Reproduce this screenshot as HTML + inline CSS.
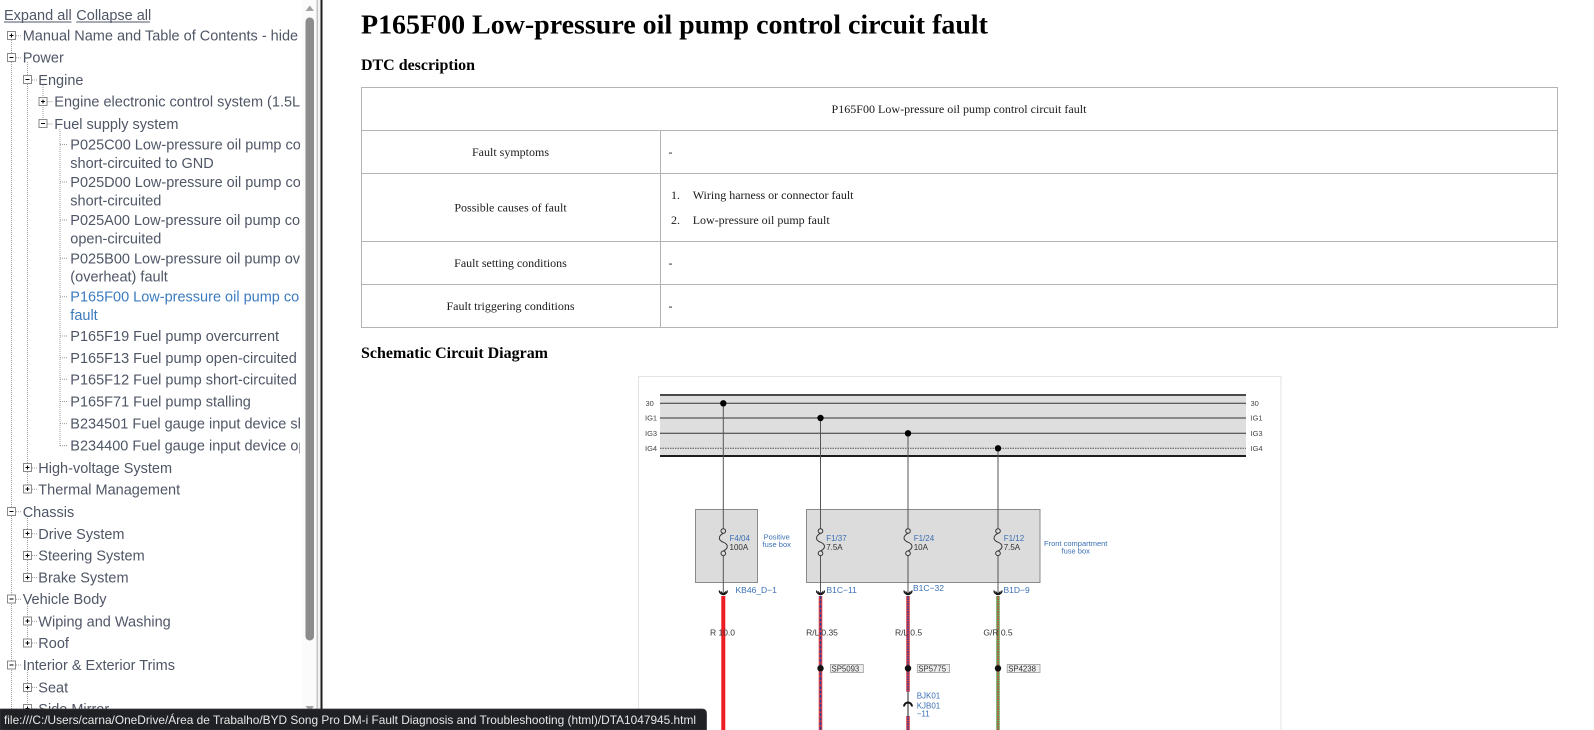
<!DOCTYPE html>
<html><head><meta charset="utf-8">
<style>
html,body{margin:0;padding:0;background:#fff;width:1594px;height:730px;overflow:hidden}
svg{display:block}
.sb{font-family:"Liberation Sans",Arial,sans-serif;font-size:14.5px;fill:#4f5666}
.sf{font-family:"Liberation Serif","Times New Roman",serif;fill:#1a1a1a}
.d{font-family:"Liberation Sans",Arial,sans-serif}
.lbl{font-size:7.5px;fill:#444}
.bl{fill:#3a6fb5}
.dk{fill:#333}
.dot{stroke:#9a9a9a;stroke-width:1;stroke-dasharray:1 1;fill:none}
.bx{fill:#fff;stroke:#8a8a8a;stroke-width:1}
.pm{stroke:#000;stroke-width:1}
</style></head><body>
<svg width="1594" height="730" viewBox="0 0 1594 730" xmlns="http://www.w3.org/2000/svg">
<defs>
<clipPath id="sbclip"><rect x="0" y="0" width="300" height="709"/></clipPath>
</defs>

<!-- ============ SIDEBAR ============ -->
<g clip-path="url(#sbclip)">
  <line class="dot" x1="11.5" y1="40" x2="11.5" y2="730"/>
  <line class="dot" x1="27.5" y1="62" x2="27.5" y2="489"/>
  <line class="dot" x1="27.5" y1="516" x2="27.5" y2="577"/>
  <line class="dot" x1="27.5" y1="604" x2="27.5" y2="643"/>
  <line class="dot" x1="27.5" y1="670" x2="27.5" y2="730"/>
  <line class="dot" x1="43" y1="85" x2="43" y2="124"/>
  <line class="dot" x1="60" y1="129" x2="60" y2="446"/>

  <g class="dot">
    <line x1="16" y1="35.7" x2="21" y2="35.7"/>
    <line x1="16" y1="57.7" x2="21" y2="57.7"/>
    <line x1="32" y1="80" x2="37" y2="80"/>
    <line x1="47.5" y1="101.7" x2="53" y2="101.7"/>
    <line x1="47.5" y1="124" x2="53" y2="124"/>
    <line x1="60" y1="144.5" x2="68" y2="144.5"/>
    <line x1="60" y1="182" x2="68" y2="182"/>
    <line x1="60" y1="220" x2="68" y2="220"/>
    <line x1="60" y1="258.3" x2="68" y2="258.3"/>
    <line x1="60" y1="296.7" x2="68" y2="296.7"/>
    <line x1="60" y1="336" x2="68" y2="336"/>
    <line x1="60" y1="357.8" x2="68" y2="357.8"/>
    <line x1="60" y1="379.3" x2="68" y2="379.3"/>
    <line x1="60" y1="401.5" x2="68" y2="401.5"/>
    <line x1="60" y1="423.6" x2="68" y2="423.6"/>
    <line x1="60" y1="445.6" x2="68" y2="445.6"/>
    <line x1="32" y1="468" x2="37" y2="468"/>
    <line x1="32" y1="489.3" x2="37" y2="489.3"/>
    <line x1="16" y1="511.8" x2="21" y2="511.8"/>
    <line x1="32" y1="533.8" x2="37" y2="533.8"/>
    <line x1="32" y1="555.5" x2="37" y2="555.5"/>
    <line x1="32" y1="577.5" x2="37" y2="577.5"/>
    <line x1="16" y1="599.2" x2="21" y2="599.2"/>
    <line x1="32" y1="621.3" x2="37" y2="621.3"/>
    <line x1="32" y1="643" x2="37" y2="643"/>
    <line x1="16" y1="665" x2="21" y2="665"/>
    <line x1="32" y1="687.4" x2="37" y2="687.4"/>
    <line x1="32" y1="708.8" x2="37" y2="708.8"/>
  </g>

  <g>
    <rect class="bx" x="7.5" y="31.5" width="8" height="8"/><line class="pm" x1="9.5" y1="35.5" x2="13.5" y2="35.5"/><line class="pm" x1="11.5" y1="33.5" x2="11.5" y2="37.5"/>
    <rect class="bx" x="7.5" y="53.5" width="8" height="8"/><line class="pm" x1="9.5" y1="57.5" x2="13.5" y2="57.5"/>
    <rect class="bx" x="23.5" y="75.5" width="8" height="8"/><line class="pm" x1="25.5" y1="79.5" x2="29.5" y2="79.5"/>
    <rect class="bx" x="39" y="97.5" width="8" height="8"/><line class="pm" x1="41" y1="101.5" x2="45" y2="101.5"/><line class="pm" x1="43" y1="99.5" x2="43" y2="103.5"/>
    <rect class="bx" x="39" y="119.5" width="8" height="8"/><line class="pm" x1="41" y1="123.5" x2="45" y2="123.5"/>
    <rect class="bx" x="23.5" y="463.5" width="8" height="8"/><line class="pm" x1="25.5" y1="467.5" x2="29.5" y2="467.5"/><line class="pm" x1="27.5" y1="465.5" x2="27.5" y2="469.5"/>
    <rect class="bx" x="23.5" y="485" width="8" height="8"/><line class="pm" x1="25.5" y1="489" x2="29.5" y2="489"/><line class="pm" x1="27.5" y1="487" x2="27.5" y2="491"/>
    <rect class="bx" x="7.5" y="507.5" width="8" height="8"/><line class="pm" x1="9.5" y1="511.5" x2="13.5" y2="511.5"/>
    <rect class="bx" x="23.5" y="529.5" width="8" height="8"/><line class="pm" x1="25.5" y1="533.5" x2="29.5" y2="533.5"/><line class="pm" x1="27.5" y1="531.5" x2="27.5" y2="535.5"/>
    <rect class="bx" x="23.5" y="551.5" width="8" height="8"/><line class="pm" x1="25.5" y1="555.5" x2="29.5" y2="555.5"/><line class="pm" x1="27.5" y1="553.5" x2="27.5" y2="557.5"/>
    <rect class="bx" x="23.5" y="573.5" width="8" height="8"/><line class="pm" x1="25.5" y1="577.5" x2="29.5" y2="577.5"/><line class="pm" x1="27.5" y1="575.5" x2="27.5" y2="579.5"/>
    <rect class="bx" x="7.5" y="595" width="8" height="8"/><line class="pm" x1="9.5" y1="599" x2="13.5" y2="599"/>
    <rect class="bx" x="23.5" y="617" width="8" height="8"/><line class="pm" x1="25.5" y1="621" x2="29.5" y2="621"/><line class="pm" x1="27.5" y1="619" x2="27.5" y2="623"/>
    <rect class="bx" x="23.5" y="639" width="8" height="8"/><line class="pm" x1="25.5" y1="643" x2="29.5" y2="643"/><line class="pm" x1="27.5" y1="641" x2="27.5" y2="645"/>
    <rect class="bx" x="7.5" y="661" width="8" height="8"/><line class="pm" x1="9.5" y1="665" x2="13.5" y2="665"/>
    <rect class="bx" x="23.5" y="683.5" width="8" height="8"/><line class="pm" x1="25.5" y1="687.5" x2="29.5" y2="687.5"/><line class="pm" x1="27.5" y1="685.5" x2="27.5" y2="689.5"/>
    <rect class="bx" x="23.5" y="704.5" width="8" height="8"/><line class="pm" x1="25.5" y1="708.5" x2="29.5" y2="708.5"/><line class="pm" x1="27.5" y1="706.5" x2="27.5" y2="710.5"/>
  </g>

  <g class="sb">
    <text x="4" y="20">Expand all</text>
    <line x1="4" y1="22" x2="71.5" y2="22" stroke="#4f5666" stroke-width="1"/>
    <text x="76.3" y="20">Collapse all</text>
    <line x1="76.3" y1="22" x2="150" y2="22" stroke="#4f5666" stroke-width="1"/>

    <text x="22.7" y="40.7">Manual Name and Table of Contents - hide</text>
    <text x="22.7" y="62.7">Power</text>
    <text x="38.3" y="85">Engine</text>
    <text x="54.3" y="106.7">Engine electronic control system (1.5L Ti)</text>
    <text x="54.3" y="129">Fuel supply system</text>
    <text x="70.3" y="149.5">P025C00 Low-pressure oil pump control circuit</text>
    <text x="70.3" y="168">short-circuited to GND</text>
    <text x="70.3" y="187">P025D00 Low-pressure oil pump control circuit</text>
    <text x="70.3" y="205.7">short-circuited</text>
    <text x="70.3" y="225">P025A00 Low-pressure oil pump control circuit</text>
    <text x="70.3" y="243.5">open-circuited</text>
    <text x="70.3" y="263.3">P025B00 Low-pressure oil pump overtemperature</text>
    <text x="70.3" y="281.7">(overheat) fault</text>
    <text x="70.3" y="301.7" style="fill:#3b7bbf">P165F00 Low-pressure oil pump control circuit</text>
    <text x="70.3" y="320" style="fill:#3b7bbf">fault</text>
    <text x="70.3" y="341">P165F19 Fuel pump overcurrent</text>
    <text x="70.3" y="362.8">P165F13 Fuel pump open-circuited</text>
    <text x="70.3" y="384.3">P165F12 Fuel pump short-circuited</text>
    <text x="70.3" y="406.5">P165F71 Fuel pump stalling</text>
    <text x="70.3" y="428.6">B234501 Fuel gauge input device short-circuited</text>
    <text x="70.3" y="450.6">B234400 Fuel gauge input device open-circuited</text>
    <text x="38.3" y="473">High-voltage System</text>
    <text x="38.3" y="494.3">Thermal Management</text>
    <text x="22.7" y="516.8">Chassis</text>
    <text x="38.3" y="538.8">Drive System</text>
    <text x="38.3" y="560.5">Steering System</text>
    <text x="38.3" y="582.5">Brake System</text>
    <text x="22.7" y="604.2">Vehicle Body</text>
    <text x="38.3" y="626.3">Wiping and Washing</text>
    <text x="38.3" y="648">Roof</text>
    <text x="22.7" y="670">Interior &amp; Exterior Trims</text>
    <text x="38.3" y="692.4">Seat</text>
    <text x="38.3" y="713.8">Side Mirror</text>
  </g>
</g>

<!-- scrollbar -->
<rect x="302" y="0" width="14.5" height="730" fill="#fbfbfb"/>
<polygon points="305.5,11 309.8,5.5 314,11" fill="#a3a3a3"/>
<rect x="305.5" y="17.5" width="8.5" height="623" rx="4.2" fill="#8c8c8c"/>
<polygon points="305.5,706 309.8,711.5 314,706" fill="#a3a3a3"/>
<rect x="316.5" y="0" width="1.6" height="730" fill="#c4c4c4"/>
<rect x="318.1" y="0" width="2.4" height="730" fill="#f3f3f3"/>
<rect x="320.5" y="0" width="2" height="730" fill="#1c1c1c"/>

<!-- ============ MAIN CONTENT ============ -->
<text class="sf" x="361" y="33.3" font-size="27.7" font-weight="bold" textLength="627" lengthAdjust="spacingAndGlyphs" style="fill:#000">P165F00 Low-pressure oil pump control circuit fault</text>
<text class="sf" x="361" y="70" font-size="16" font-weight="bold" textLength="114" lengthAdjust="spacingAndGlyphs" style="fill:#000">DTC description</text>

<g stroke="#b3b3b3" stroke-width="1" fill="none">
  <rect x="361.5" y="87.5" width="1196" height="240"/>
  <line x1="361.5" y1="130.5" x2="1557.5" y2="130.5"/>
  <line x1="361.5" y1="173.5" x2="1557.5" y2="173.5"/>
  <line x1="361.5" y1="241.5" x2="1557.5" y2="241.5"/>
  <line x1="361.5" y1="284.5" x2="1557.5" y2="284.5"/>
  <line x1="660.5" y1="130.5" x2="660.5" y2="327.5"/>
</g>
<g class="sf" font-size="12">
  <text x="959" y="113" text-anchor="middle" textLength="255" lengthAdjust="spacingAndGlyphs">P165F00 Low-pressure oil pump control circuit fault</text>
  <text x="510.5" y="156" text-anchor="middle">Fault symptoms</text>
  <text x="668.5" y="156">-</text>
  <text x="510.5" y="211.5" text-anchor="middle">Possible causes of fault</text>
  <text x="671" y="198.8">1.</text>
  <text x="692.7" y="198.8">Wiring harness or connector fault</text>
  <text x="671" y="223.8">2.</text>
  <text x="692.7" y="223.8">Low-pressure oil pump fault</text>
  <text x="510.5" y="267" text-anchor="middle">Fault setting conditions</text>
  <text x="668.5" y="267">-</text>
  <text x="510.5" y="310" text-anchor="middle">Fault triggering conditions</text>
  <text x="668.5" y="310">-</text>
</g>

<text class="sf" x="361" y="357.8" font-size="16" font-weight="bold" textLength="187" lengthAdjust="spacingAndGlyphs" style="fill:#000">Schematic Circuit Diagram</text>

<!-- ============ DIAGRAM ============ -->
<rect x="638.5" y="376.5" width="642.5" height="360" fill="#fff" stroke="#e3e3e3"/>

<rect x="660" y="395" width="586" height="61" fill="#dedede"/>
<line x1="660" y1="395" x2="1246" y2="395" stroke="#4a4a4a" stroke-width="2"/>
<line x1="660" y1="456" x2="1246" y2="456" stroke="#1e1e1e" stroke-width="2"/>
<line x1="660" y1="403.3" x2="1246" y2="403.3" stroke="#333" stroke-width="1"/>
<line x1="660" y1="418" x2="1246" y2="418" stroke="#333" stroke-width="1"/>
<line x1="660" y1="433.3" x2="1246" y2="433.3" stroke="#333" stroke-width="1"/>
<line x1="660" y1="448.3" x2="1246" y2="448.3" stroke="#555" stroke-width="1" stroke-dasharray="1.5 1"/>
<g class="d lbl">
  <text x="645.5" y="406">30</text>
  <text x="645" y="420.7">IG1</text>
  <text x="645" y="436">IG3</text>
  <text x="645" y="451">IG4</text>
  <text x="1250.5" y="406">30</text>
  <text x="1250.5" y="420.7">IG1</text>
  <text x="1250.5" y="436">IG3</text>
  <text x="1250.5" y="451">IG4</text>
</g>

<rect x="695.5" y="509.5" width="62" height="73" fill="#dcdcdc" stroke="#8a8a8a"/>
<rect x="806.5" y="509.5" width="233.5" height="73" fill="#dcdcdc" stroke="#8a8a8a"/>

<g stroke="#555" stroke-width="1" fill="none">
  <line x1="723.3" y1="403.3" x2="723.3" y2="528.7"/>
  <line x1="723.3" y1="555.6" x2="723.3" y2="595"/>
  <line x1="820.5" y1="418" x2="820.5" y2="528.7"/>
  <line x1="820.5" y1="555.6" x2="820.5" y2="595"/>
  <line x1="908" y1="433.3" x2="908" y2="528.7"/>
  <line x1="908" y1="555.6" x2="908" y2="595"/>
  <line x1="998" y1="448.3" x2="998" y2="528.7"/>
  <line x1="998" y1="555.6" x2="998" y2="595"/>
</g>
<circle cx="723.3" cy="403.3" r="3.2" fill="#000"/>
<circle cx="820.5" cy="418" r="3.2" fill="#000"/>
<circle cx="908" cy="433.3" r="3.2" fill="#000"/>
<circle cx="998" cy="448.3" r="3.2" fill="#000"/>

<g stroke="#333" stroke-width="1" fill="none">
  <circle cx="723.3" cy="531" r="2.3"/><circle cx="723.3" cy="553.3" r="2.3"/>
  <path d="M723.3,533.3 C718,536 718,540 723.3,542.2 C728.6,544.4 728.6,548.5 723.3,551"/>
  <circle cx="820.5" cy="531" r="2.3"/><circle cx="820.5" cy="553.3" r="2.3"/>
  <path d="M820.5,533.3 C815.2,536 815.2,540 820.5,542.2 C825.8,544.4 825.8,548.5 820.5,551"/>
  <circle cx="908" cy="531" r="2.3"/><circle cx="908" cy="553.3" r="2.3"/>
  <path d="M908,533.3 C902.7,536 902.7,540 908,542.2 C913.3,544.4 913.3,548.5 908,551"/>
  <circle cx="998" cy="531" r="2.3"/><circle cx="998" cy="553.3" r="2.3"/>
  <path d="M998,533.3 C992.7,536 992.7,540 998,542.2 C1003.3,544.4 1003.3,548.5 998,551"/>
</g>
<g class="d" font-size="8">
  <text class="bl" x="729.5" y="541">F4/04</text>
  <text class="dk" x="729.5" y="550">100A</text>
  <text class="bl" x="826.2" y="541">F1/37</text>
  <text class="dk" x="826.2" y="550">7.5A</text>
  <text class="bl" x="913.7" y="541">F1/24</text>
  <text class="dk" x="913.7" y="550">10A</text>
  <text class="bl" x="1003.7" y="541">F1/12</text>
  <text class="dk" x="1003.7" y="550">7.5A</text>
</g>
<g class="d bl" font-size="7.5" text-anchor="middle">
  <text x="776.7" y="539.5">Positive</text>
  <text x="776.7" y="547">fuse box</text>
  <text x="1075.7" y="546">Front compartment</text>
  <text x="1075.7" y="553.7">fuse box</text>
</g>

<g stroke="#111" stroke-width="1.3" fill="none">
  <path d="M719.3,590.5 A4,4 0 0 0 727.3,590.5"/><path d="M720.8,591.5 L723.3,594.5 L725.8,591.5"/>
  <path d="M816.5,590.5 A4,4 0 0 0 824.5,590.5"/><path d="M818,591.5 L820.5,594.5 L823,591.5"/>
  <path d="M904,590.5 A4,4 0 0 0 912,590.5"/><path d="M905.5,591.5 L908,594.5 L910.5,591.5"/>
  <path d="M994,590.5 A4,4 0 0 0 1002,590.5"/><path d="M995.5,591.5 L998,594.5 L1000.5,591.5"/>
</g>
<g class="d bl" font-size="8.5">
  <text x="735.5" y="593">KB46_D−1</text>
  <text x="826.5" y="593">B1C−11</text>
  <text x="913" y="591">B1C−32</text>
  <text x="1003.5" y="593">B1D−9</text>
</g>

<line x1="723.3" y1="596" x2="723.3" y2="730" stroke="#ee1c24" stroke-width="4"/>

<line x1="820.5" y1="596" x2="820.5" y2="730" stroke="#d4414a" stroke-width="3.6"/>
<line x1="820.5" y1="596" x2="820.5" y2="730" stroke="#2b3c9a" stroke-width="1.4" stroke-dasharray="3 1.5"/>

<line x1="908" y1="596" x2="908" y2="691.7" stroke="#d4414a" stroke-width="3.6"/>
<line x1="908" y1="596" x2="908" y2="691.7" stroke="#2b3c9a" stroke-width="1.4" stroke-dasharray="1.5 1"/>
<line x1="908" y1="716" x2="908" y2="730" stroke="#d4414a" stroke-width="3.6"/>
<line x1="908" y1="716" x2="908" y2="730" stroke="#2b3c9a" stroke-width="1.4" stroke-dasharray="1.5 1"/>

<line x1="998" y1="596" x2="998" y2="730" stroke="#6fa85f" stroke-width="3.6"/>
<line x1="998" y1="596" x2="998" y2="730" stroke="#d8262c" stroke-width="1.2" stroke-dasharray="1.5 1"/>

<g class="d" font-size="8.5" fill="#333" text-anchor="middle">
  <text x="722.5" y="635.5">R 10.0</text>
  <text x="822" y="635.5">R/L 0.35</text>
  <text x="908.5" y="635.5">R/L 0.5</text>
  <text x="998" y="635.5">G/R 0.5</text>
</g>

<circle cx="820.5" cy="668.3" r="3.2" fill="#111"/>
<circle cx="908" cy="668.3" r="3.2" fill="#111"/>
<circle cx="998" cy="668.3" r="3.2" fill="#111"/>
<g fill="#eeeeee" stroke="#9a9a9a" stroke-width="0.8">
  <rect x="830.5" y="664.5" width="32.8" height="8"/>
  <rect x="917.3" y="664.5" width="32.3" height="8"/>
  <rect x="1007.2" y="664.5" width="32.8" height="8"/>
</g>
<g class="d" font-size="7.8" fill="#333">
  <text x="831.5" y="671.3">SP5093</text>
  <text x="918.3" y="671.3">SP5775</text>
  <text x="1008.2" y="671.3">SP4238</text>
</g>

<line x1="908" y1="691.7" x2="908" y2="716" stroke="#222" stroke-width="1"/>
<path d="M904,706.5 A4,4 0 0 1 912,706.5" stroke="#111" stroke-width="2" fill="none"/>
<g class="d bl" font-size="8">
  <text x="916.7" y="698.5">BJK01</text>
  <text x="916.7" y="708.3">KJB01</text>
  <text x="916.7" y="716.5">−11</text>
</g>

<!-- ============ STATUS BAR ============ -->
<path d="M0,709 H702 Q706.5,709 706.5,713.5 V730 H0 Z" fill="#202124" stroke="#3a3a3a" stroke-width="0.8"/>
<text x="4" y="724" class="d" font-size="12" fill="#e8e8e8" textLength="692" lengthAdjust="spacingAndGlyphs">file:///C:/Users/carna/OneDrive/Área de Trabalho/BYD Song Pro DM-i Fault Diagnosis and Troubleshooting (html)/DTA1047945.html</text>
</svg>
</body></html>
